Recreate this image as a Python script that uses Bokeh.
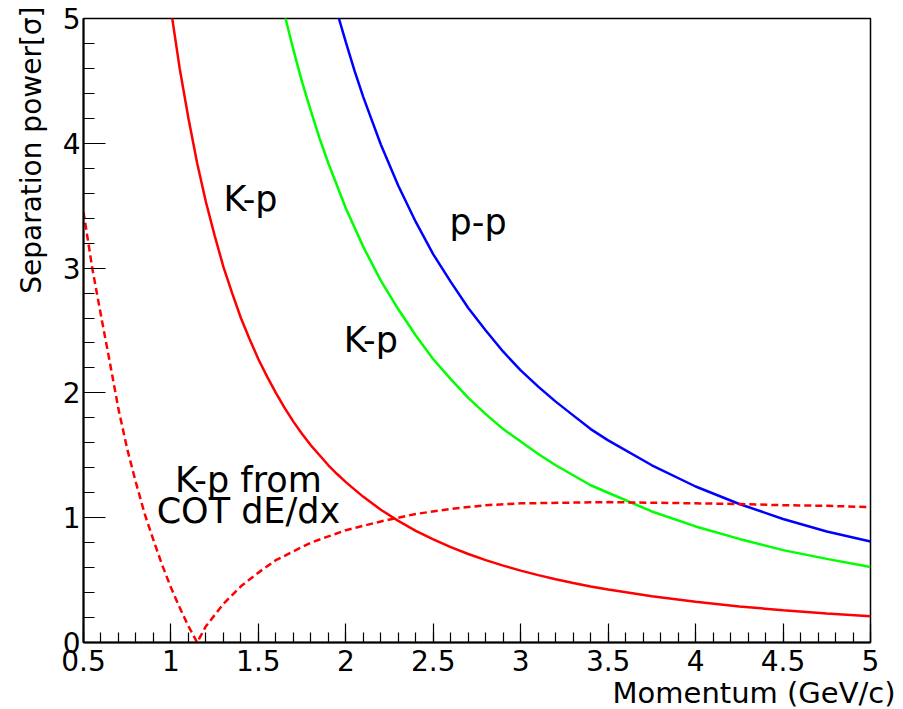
from bokeh.plotting import figure
from bokeh.models import Range1d, FixedTicker, Label, Title
from bokeh.embed import file_html
from bokeh.resources import INLINE

# ---- data ----
p_red = [1.0, 1.05, 1.1, 1.15, 1.2, 1.25, 1.3, 1.35, 1.4, 1.45, 1.5, 1.55, 1.6, 1.65,
         1.7, 1.75, 1.8, 1.85, 1.9, 1.95, 2.0, 2.1, 2.2, 2.3, 2.4, 2.5, 2.6, 2.7, 2.8,
         2.9, 3.0, 3.1, 3.2, 3.3, 3.4, 3.5, 3.75, 4.0, 4.25, 4.5, 4.75, 5.0]
sep_red = [5.07, 4.60, 4.20, 3.84, 3.53, 3.26, 3.01, 2.80, 2.60, 2.43, 2.27, 2.13, 2.00,
           1.88, 1.77, 1.67, 1.58, 1.50, 1.42, 1.35, 1.285, 1.167, 1.064, 0.975, 0.895,
           0.826, 0.764, 0.709, 0.66, 0.616, 0.576, 0.540, 0.507, 0.477, 0.449, 0.424,
           0.37, 0.326, 0.289, 0.258, 0.232, 0.21]

p_green = [1.65, 1.7, 1.75, 1.8, 1.85, 1.9, 1.95, 2.0, 2.1, 2.2, 2.3, 2.4, 2.5, 2.6,
           2.7, 2.8, 2.9, 3.0, 3.1, 3.2, 3.3, 3.4, 3.5, 3.75, 4.0, 4.25, 4.5, 4.75, 5.0]
sep_green = [5.03, 4.75, 4.49, 4.26, 4.04, 3.84, 3.66, 3.48, 3.17, 2.90, 2.67, 2.46,
             2.27, 2.11, 1.96, 1.83, 1.71, 1.61, 1.51, 1.42, 1.34, 1.26, 1.20, 1.05,
             0.93, 0.83, 0.74, 0.67, 0.605]

p_blue = [1.95, 2.0, 2.05, 2.1, 2.15, 2.2, 2.3, 2.4, 2.5, 2.6, 2.7, 2.8, 2.9, 3.0, 3.1,
          3.2, 3.3, 3.4, 3.5, 3.75, 4.0, 4.25, 4.5, 4.75, 5.0]
sep_blue = [5.05, 4.81, 4.58, 4.37, 4.18, 3.99, 3.66, 3.37, 3.11, 2.89, 2.68, 2.50, 2.33,
            2.18, 2.05, 1.93, 1.82, 1.71, 1.62, 1.42, 1.25, 1.11, 0.99, 0.89, 0.81]

p_cot = [0.5, 0.55, 0.6, 0.65, 0.7, 0.75, 0.8, 0.85, 0.9, 0.95, 1.0, 1.05, 1.1, 1.15,
         1.2, 1.25, 1.3, 1.35, 1.4, 1.5, 1.6, 1.7, 1.8, 1.9, 2.0, 2.2, 2.4, 2.6, 2.8,
         3.0, 3.25, 3.5, 3.75, 4.0, 4.25, 4.5, 4.75, 5.0]
sep_cot = [3.45, 3.0, 2.62, 2.25, 1.87, 1.55, 1.28, 1.03, 0.82, 0.62, 0.44, 0.28, 0.13, 0.0,
           0.13, 0.22, 0.31, 0.38, 0.45, 0.56, 0.66, 0.73, 0.80, 0.85, 0.90, 0.97, 1.03,
           1.07, 1.10, 1.115, 1.12, 1.125, 1.12, 1.115, 1.11, 1.10, 1.095, 1.085]

x_ticks = [0.5, 1.0, 1.5, 2.0, 2.5, 3.0, 3.5, 4.0, 4.5, 5.0]
x_tick_labels = ["0.5", "1", "1.5", "2", "2.5", "3", "3.5", "4", "4.5", "5"]
y_ticks = [0, 1, 2, 3, 4, 5]
y_tick_labels = ["0", "1", "2", "3", "4", "5"]

x_title = "Momentum (GeV/c)"
y_title = "Separation power[σ]"

annotations = [
    ("K-p", 1.30, 3.556),
    ("p-p", 2.593, 3.37),
    ("K-p", 1.988, 2.423),
]
cot_lines = [("K-p from", 1.443, 1.30), ("COT dE/dx", 1.443, 1.05)]

FONT = "DejaVu Sans"

p = figure(width=903, height=709,
           min_border_left=83, min_border_right=33, min_border_top=18, min_border_bottom=67,
           x_range=Range1d(0.5, 5.0), y_range=Range1d(0, 5),
           output_backend="svg", toolbar_location=None)

p.xgrid.visible = False
p.ygrid.visible = False
p.outline_line_color = "black"
p.outline_line_width = 1.5
p.background_fill_color = "white"
p.border_fill_color = "white"

x_minor = [round(0.5 + 0.1 * i, 2) for i in range(46)]
y_minor = [round(0.2 * i, 2) for i in range(26)]
p.xaxis.ticker = FixedTicker(ticks=x_ticks, minor_ticks=x_minor)
p.yaxis.ticker = FixedTicker(ticks=y_ticks, minor_ticks=y_minor)
p.xaxis.major_label_overrides = {t: l for t, l in zip(x_ticks, x_tick_labels)}
p.yaxis.major_label_overrides = {t: l for t, l in zip(y_ticks, y_tick_labels)}

for ax, mj, mn in ((p.xaxis, 19, 10), (p.yaxis, 22, 11)):
    ax.axis_line_width = 2
    ax.axis_line_color = "black"
    ax.major_tick_in = mj
    ax.major_tick_out = 0
    ax.minor_tick_in = mn
    ax.minor_tick_out = 0
    ax.major_tick_line_color = "black"
    ax.minor_tick_line_color = "black"
    ax.major_tick_line_width = 1.2
    ax.minor_tick_line_width = 1.2
    ax.major_label_text_font = FONT
    ax.major_label_text_font_size = "28px"
    ax.major_label_text_color = "black"
p.xaxis.major_label_standoff = 7
p.yaxis.major_label_standoff = 3

p.line(p_red, sep_red, line_color="#ff0000", line_width=2.5)
p.line(p_green, sep_green, line_color="#00ff00", line_width=2.5)
p.line(p_blue, sep_blue, line_color="#0000ff", line_width=2.5)
p.line(p_cot, sep_cot, line_color="#ff0000", line_width=2.5, line_dash="7 4")

for txt, x, y in annotations:
    p.add_layout(Label(x=x, y=y, text=txt, text_font=FONT, text_font_size="35px",
                       text_align="left", text_baseline="alphabetic", text_color="black"))
for txt, x, y in cot_lines:
    p.add_layout(Label(x=x, y=y, text=txt, text_font=FONT, text_font_size="35px",
                       text_align="center", text_baseline="alphabetic", text_color="black"))

p.add_layout(Title(text=x_title, align="right", offset=-25, standoff=0,
                   text_font=FONT, text_font_size="29px", text_font_style="normal",
                   text_color="black"), "below")
p.add_layout(Title(text=y_title, align="right", offset=-12, standoff=24,
                   text_font=FONT, text_font_size="28px", text_font_style="normal",
                   text_color="black"), "left")

open("out.html", "w").write(file_html(p, INLINE))
